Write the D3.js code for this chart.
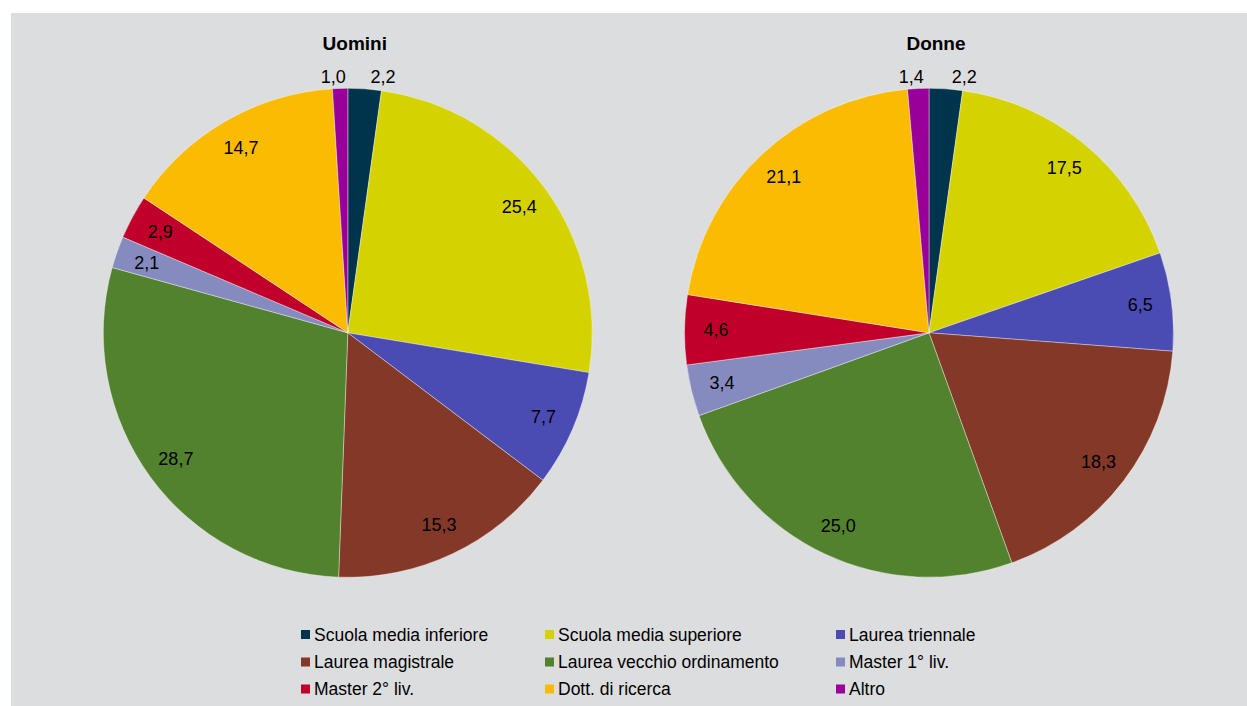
<!DOCTYPE html>
<html>
<head>
<meta charset="utf-8">
<script src="https://cdn.jsdelivr.net/npm/d3@7"></script>
<style>
  html, body { margin: 0; padding: 0; background: #ffffff; }
  svg { display: block; font-family: "Liberation Sans", Arial, sans-serif; }
</style>
</head>
<body>
<svg id="chart" width="1247" height="706"></svg>
<script>
// Titolo di studio: distribuzione percentuale per sesso
const categories = [
  "Scuola media inferiore",
  "Scuola media superiore",
  "Laurea triennale",
  "Laurea magistrale",
  "Laurea vecchio ordinamento",
  "Master 1° liv.",
  "Master 2° liv.",
  "Dott. di ricerca",
  "Altro"
];
const colors = [
  "#00334c", "#d4d200", "#4a4cb4", "#833828", "#53822e",
  "#858bbe", "#c0002b", "#fbbb00", "#990099"
];
const groupNames = ["Uomini", "Donne"];
const valuesUomini = [2.2, 25.4, 7.7, 15.3, 28.7, 2.1, 2.9, 14.7, 1.0];
const valuesDonne  = [2.2, 17.5, 6.5, 18.3, 25.0, 3.4, 4.6, 21.1, 1.4];

const W = 1247, H = 706;
const svg = d3.select("#chart");

// grey panel
svg.append("rect")
  .attr("x", 11).attr("y", 13)
  .attr("width", W - 11).attr("height", H - 13)
  .attr("fill", "#dcdddf");

const R = 244.5;
const cy = 332.8;
const centersX = [347.8, 929];
const fmt = v => d3.format(".1f")(v).replace(".", ",");

const pie = d3.pie().sort(null).value(d => d.v);
const arc = d3.arc().innerRadius(0).outerRadius(R);

const labelFont = 18;

[valuesUomini, valuesDonne].forEach((vals, gi) => {
  const cx = centersX[gi];
  const g = svg.append("g").attr("transform", `translate(${cx},${cy})`);
  const data = vals.map((v, i) => ({ v, i }));
  const arcs = pie(data);

  g.selectAll("path.slice")
    .data(arcs)
    .enter().append("path")
    .attr("class", "slice")
    .attr("d", arc)
    .attr("fill", d => colors[d.data.i])
    .attr("stroke", "rgba(255,255,255,0.55)")
    .attr("stroke-width", 0.7);

  // labels: inside the slice when the text fits, otherwise just outside
  const rIn = 213, rOut = 256;
  arcs.forEach(d => {
    const txt = fmt(d.data.v);
    const mid = (d.startAngle + d.endAngle) / 2;
    const dA = d.endAngle - d.startAngle;
    const t = g.append("text")
      .attr("font-size", labelFont)
      .attr("fill", "#000")
      .attr("dominant-baseline", "central")
      .text(txt);
    const tw = t.node().getComputedTextLength(), th = 14;
    const need = (tw + 6) * Math.abs(Math.cos(mid)) + th * Math.abs(Math.sin(mid));
    const fits = need <= rIn * dA;
    if (fits) {
      t.attr("x", rIn * Math.sin(mid))
       .attr("y", -rIn * Math.cos(mid))
       .attr("text-anchor", "middle");
    } else {
      const right = Math.sin(mid) >= 0;
      t.attr("x", rOut * Math.sin(mid) + (right ? 5 : 6))
       .attr("y", -rOut * Math.cos(mid))
       .attr("text-anchor", right ? "start" : "end");
    }
  });

  svg.append("text")
    .attr("x", cx + 7).attr("y", 50)
    .attr("text-anchor", "middle")
    .attr("font-size", 19)
    .attr("font-weight", "bold")
    .attr("fill", "#000")
    .text(groupNames[gi]);
});

// legend: 3 columns x 3 rows
const colX = [301, 545, 836];
const rowY = [634.5, 662, 689];
const legend = svg.append("g");
categories.forEach((c, i) => {
  const col = i % 3, row = Math.floor(i / 3);
  const lg = legend.append("g").attr("transform", `translate(${colX[col]},${rowY[row]})`);
  lg.append("rect")
    .attr("x", 0).attr("y", -4.5)
    .attr("width", 9).attr("height", 9)
    .attr("fill", colors[i]);
  lg.append("text")
    .attr("x", 13).attr("y", 0)
    .attr("dominant-baseline", "central")
    .attr("font-size", 17.5)
    .attr("fill", "#000")
    .text(c);
});
</script>
</body>
</html>
